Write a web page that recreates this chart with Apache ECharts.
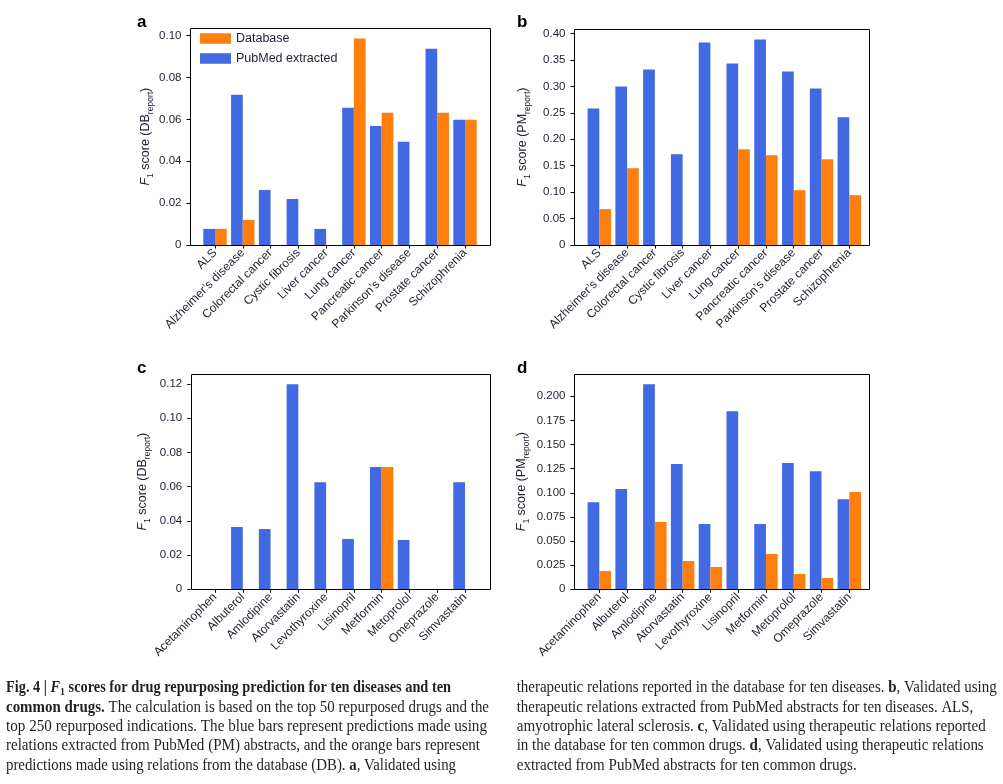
<!DOCTYPE html>
<html><head><meta charset="utf-8">
<script src="https://cdn.jsdelivr.net/npm/echarts@6/dist/echarts.min.js"></script>
<style>html,body{margin:0;padding:0;background:#fff}#c{width:1003px;height:784px}</style>
</head><body><div id="c"></div>
<script>
// ---------- data ----------
const diseases = ['ALS','Alzheimer’s disease','Colorectal cancer','Cystic fibrosis','Liver cancer','Lung cancer','Pancreatic cancer','Parkinson’s disease','Prostate cancer','Schizophrenia'];
const drugs = ['Acetaminophen','Albuterol','Amlodipine','Atorvastatin','Levothyroxine','Lisinopril','Metformin','Metoprolol','Omeprazole','Simvastatin'];
const aPubMed   = [0.0077,0.0718,0.0263,0.0220,0.0077,0.0656,0.0569,0.0493,0.0938,0.0598];
const aDatabase = [0.0077,0.0120,0,0,0,0.0986,0.0632,0,0.0632,0.0598];
const bPubMed   = [0.2585,0.3000,0.3321,0.1717,0.3830,0.3434,0.3887,0.3283,0.2962,0.2415];
const bDatabase = [0.0679,0.1453,0,0,0,0.1811,0.1698,0.1038,0.1623,0.0943];
const cPubMed   = [0,0.0364,0.0352,0.1198,0.0626,0.0294,0.0714,0.0288,0,0.0626];
const cDatabase = [0,0,0,0,0,0,0.0714,0,0,0];
const dPubMed   = [0.0903,0.1038,0.2124,0.1297,0.0676,0.1845,0.0676,0.1307,0.1224,0.0934];
const dDatabase = [0.0190,0,0.0697,0.0293,0.0231,0,0.0366,0.0159,0.0117,0.1007];
const aTicks = [0,0.02,0.04,0.06,0.08,0.10];
const bTicks = [0,0.05,0.10,0.15,0.20,0.25,0.30,0.35,0.40];
const cTicks = [0,0.02,0.04,0.06,0.08,0.10,0.12];
const dTicks = [0,0.025,0.050,0.075,0.100,0.125,0.150,0.175,0.200];
const seriesNames = ['PubMed extracted','Database'];
const legendOrder = ['Database','PubMed extracted'];

// ---------- layout / style ----------
const BLUE = '#4169E1', ORANGE = '#FF7F0E', TXT = '#1c1f30';
const SANS = 'Liberation Sans, Arial, sans-serif';
const panels = [
  {key:'a', cats:diseases, pub:aPubMed, db:aDatabase, ticks:aTicks, dec:2, yname:'DB', frame:[190,28.3,489.7,245], c0:215, c9:465, gap:32, letter:[137,31]},
  {key:'b', cats:diseases, pub:bPubMed, db:bDatabase, ticks:bTicks, dec:2, yname:'PM', frame:[574,29.3,869.3,245], c0:599.3, c9:849.3, gap:42, letter:[517,31]},
  {key:'c', cats:drugs, pub:cPubMed, db:cDatabase, ticks:cTicks, dec:2, yname:'DB', frame:[190.7,374,489.7,589.3], c0:215, c9:465, gap:39, letter:[137,377]},
  {key:'d', cats:drugs, pub:dPubMed, db:dDatabase, ticks:dTicks, dec:3, yname:'PM', frame:[574,374,869.3,589.3], c0:599.3, c9:849.3, gap:43, letter:[517,377]}
];

const grid = [], xAxis = [], yAxis = [], series = [], graphic = [];
panels.forEach((p, i) => {
  const band = (p.c9 - p.c0) / (p.cats.length - 1);
  const left = p.c0 - band / 2;
  const [fl, ft, fr, fb] = p.frame;
  grid.push({left: left, top: ft, width: band * p.cats.length, height: fb - ft, containLabel: false});
  xAxis.push({
    type:'category', gridIndex:i, data:p.cats, boundaryGap:true,
    axisLine:{show:false},
    axisTick:{show:true, alignWithLabel:true, length:3.5, lineStyle:{color:'#000', width:1}},
    axisLabel:{interval:0, rotate:45, fontSize:12, fontFamily:SANS, color:TXT, margin:6}
  });
  const mx = Math.max(...p.pub, ...p.db) * 1.05;
  yAxis.push({
    type:'value', gridIndex:i, min:0, max:mx, offset: left - fl,
    axisLine:{show:false}, splitLine:{show:false},
    axisTick:{show:true, length:3.5, lineStyle:{color:'#000', width:1}, customValues:p.ticks},
    axisLabel:{customValues:p.ticks, fontSize:11.5, fontFamily:SANS, color:TXT, margin:8.5,
      formatter: v => (Math.abs(v) < 1e-12 ? '0' : v.toFixed(p.dec))},
    name:'{i|F}{s|1}{n| score (' + p.yname + '}{s|report}{n|)}',
    nameLocation:'middle', nameRotate:90, nameGap:p.gap,
    nameTextStyle:{rich:{
      i:{fontStyle:'italic', fontSize:12.5, fontFamily:SANS, color:TXT, lineHeight:19},
      n:{fontSize:12.5, fontFamily:SANS, color:TXT, lineHeight:19},
      s:{fontSize:8.5, fontFamily:SANS, color:TXT, lineHeight:10, verticalAlign:'bottom'}
    }}
  });
  series.push({name:seriesNames[0], type:'bar', xAxisIndex:i, yAxisIndex:i, data:p.pub, barWidth:11.7, barGap:'0%', itemStyle:{color:BLUE}, animation:false});
  series.push({name:seriesNames[1], type:'bar', xAxisIndex:i, yAxisIndex:i, data:p.db, barWidth:11.7, barGap:'0%', itemStyle:{color:ORANGE}, animation:false});
  graphic.push({type:'rect', z:100, silent:true,
    shape:{x:Math.round(fl)+0.5, y:Math.round(ft)+0.5, width:Math.round(fr)-Math.round(fl), height:Math.round(fb)-Math.round(ft)},
    style:{fill:'none', stroke:'#000', lineWidth:1}});
  graphic.push({type:'text', x:p.letter[0], y:p.letter[1], z:100,
    style:{text:p.key, font:'bold 17px ' + SANS, fill:'#000', verticalAlign:'bottom', align:'left'}});
});

// ---------- caption ----------
const SERIF = '"Liberation Serif", serif';
const FS = 16;
const capFonts = {
  r: FS + 'px ' + SERIF,
  b: 'bold ' + FS + 'px ' + SERIF,
  bi: 'italic bold ' + FS + 'px ' + SERIF,
  sb: 'bold 11px ' + SERIF
};
const capRich = {
  r:{fontSize:FS, fontFamily:SERIF, fill:'#231f20', lineHeight:20},
  b:{fontSize:FS, fontFamily:SERIF, fontWeight:'bold', fill:'#231f20', lineHeight:20},
  bi:{fontSize:FS, fontFamily:SERIF, fontWeight:'bold', fontStyle:'italic', fill:'#231f20', lineHeight:20},
  sb:{fontSize:11, fontFamily:SERIF, fontWeight:'bold', fill:'#231f20', lineHeight:11, verticalAlign:'bottom'}
};
const capLeft = [
  [['b','Fig. 4 | '],['bi','F'],['sb','1'],['b',' scores for drug repurposing prediction for ten diseases and ten']],
  [['b','common drugs.'],['r',' The calculation is based on the top 50 repurposed drugs and the']],
  [['r','top 250 repurposed indications. The blue bars represent predictions made using']],
  [['r','relations extracted from PubMed (PM) abstracts, and the orange bars represent']],
  [['r','predictions made using relations from the database (DB). '],['b','a'],['r',', Validated using']]
];
const capRight = [
  [['r','therapeutic relations reported in the database for ten diseases. '],['b','b'],['r',', Validated using']],
  [['r','therapeutic relations extracted from PubMed abstracts for ten diseases. ALS,']],
  [['r','amyotrophic lateral sclerosis. '],['b','c'],['r',', Validated using therapeutic relations reported']],
  [['r','in the database for ten common drugs. '],['b','d'],['r',', Validated using therapeutic relations']],
  [['r','extracted from PubMed abstracts for ten common drugs.']]
];
const leftWidths = [445, 483, 481, 474, 450];
const rightWidths = [480, 456.5, 469, 467, 340];
const lineYs = [688, 707.4, 726.8, 746.2, 765.5];
const ctx = document.createElement('canvas').getContext('2d');
function addLines(lines, widths, x) {
  lines.forEach((segs, k) => {
    let w = 0;
    segs.forEach(([st, t]) => { ctx.font = capFonts[st]; w += ctx.measureText(t).width; });
    graphic.push({type:'text', x:x, y:lineYs[k], scaleX: widths[k] / w, z:100,
      style:{text: segs.map(([st, t]) => '{' + st + '|' + t + '}').join(''), rich:capRich,
        verticalAlign:'middle', align:'left'}});
  });
}
addLines(capLeft, leftWidths, 6);
addLines(capRight, rightWidths, 516.7);

const chart = echarts.init(document.getElementById('c'), null, {renderer:'canvas'});
chart.setOption({
  animation:false,
  backgroundColor:'#fff',
  grid, xAxis, yAxis, series, graphic,
  legend:{data:legendOrder, left:200, top:32, padding:0, orient:'vertical', icon:'rect', itemWidth:31, itemHeight:10.5, itemGap:7,
    selectedMode:false, textStyle:{fontSize:12.5, fontFamily:SANS, color:TXT}}
});
</script>
</body></html>
